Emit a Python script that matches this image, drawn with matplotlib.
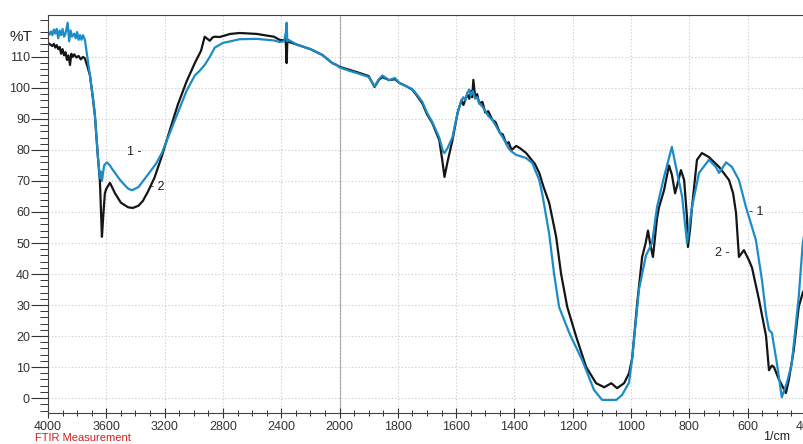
import matplotlib
matplotlib.use("Agg")
import matplotlib.pyplot as plt
import numpy as np
from matplotlib.ticker import FixedLocator, NullFormatter

plt.rcParams['font.family'] = ['Liberation Sans', 'DejaVu Sans']

# FTIR spectra (wavenumber in 1/cm, transmittance in %T)
# curve 2 (black)
wn_2 = [4000, 3985, 3970, 3960, 3950, 3940, 3930, 3920, 3910, 3900, 3890, 3880,
        3870, 3860, 3849, 3840, 3830, 3820, 3805, 3790, 3775, 3760, 3747,
        3730, 3712, 3690, 3678, 3658, 3644, 3636, 3630, 3622, 3610, 3600, 3575,
        3540, 3500, 3450, 3418, 3380, 3350, 3315, 3270, 3219, 3160, 3110, 3050,
        2993, 2950, 2925, 2890, 2870, 2856, 2822, 2750, 2685, 2569, 2450, 2411,
        2380, 2370, 2363, 2358, 2295, 2200, 2117, 2050, 2021, 2000, 1966, 1931,
        1900, 1880, 1865, 1853, 1830, 1810, 1795, 1770, 1750, 1736, 1716, 1700,
        1682, 1658, 1648, 1640, 1630, 1613, 1595, 1582, 1575, 1562, 1555, 1550,
        1545, 1541, 1535, 1528, 1521, 1510, 1500, 1490, 1476, 1465, 1450, 1440,
        1428, 1420, 1410, 1394, 1380, 1360, 1349, 1330, 1315,
        1300, 1281, 1257, 1240, 1219, 1188, 1154, 1120, 1092, 1068, 1048, 1024,
        1007, 996, 979, 962, 950, 942, 935, 925, 911, 904, 887, 870, 860, 849,
        838, 829, 818, 808, 805, 797, 791, 774, 757, 733, 698, 664, 650, 640,
        630, 613, 596, 585, 561, 537, 527, 517, 510, 493, 486, 469, 459, 442,
        425, 411, 400]
t_2 = [114.5, 114.0, 113.5, 114.2, 113.0, 113.8, 112.5, 113.2, 111.0, 112.5, 110.5, 111.5,
       109.0, 110.5, 107.4, 111.0, 110.0, 110.8, 109.8, 110.3, 109.2, 110.0, 109.5,
       107.0, 104.0, 96.0, 91.0, 78.0, 70.0, 60.0, 52.0, 58.0, 66.0, 67.5, 69.4,
       66.0, 63.0, 61.5, 61.3, 62.0, 63.5, 66.5, 71.0, 78.0, 87.0, 94.5, 102.0,
       108.0, 112.0, 116.5, 115.2, 116.3, 116.5, 116.4, 117.4, 117.7, 117.4, 116.5, 115.5,
       115.3, 116.0, 108.0, 115.0, 114.0, 112.5, 110.6, 108.0, 107.4, 106.8, 105.8, 104.8,
       103.8, 100.3, 102.6, 103.5, 102.5, 102.8, 101.6, 100.5, 99.4, 97.7, 95.0, 91.5,
       88.7, 83.2, 77.0, 71.3, 76.0, 83.0, 92.0, 96.0, 94.5, 98.0, 96.5, 99.0,
       97.0, 102.6, 97.0, 98.0, 95.0, 95.5, 92.0, 92.5, 89.7, 89.0, 85.5, 85.0,
       82.0, 82.5, 80.0, 81.3, 80.5, 79.0, 77.7, 75.5, 72.6,
       68.0, 63.0, 52.0, 40.0, 29.4, 19.7, 10.0, 4.8, 3.5, 4.8, 3.2, 4.8,
       8.0, 13.0, 30.6, 45.5, 50.0, 54.0, 50.0, 45.5, 58.0, 61.6, 67.0, 75.0, 72.0, 66.0,
       70.0, 73.5, 70.3, 58.0, 48.7, 55.0, 61.6, 76.8, 79.0, 77.7, 74.5, 70.3, 66.0, 59.7,
       45.5, 47.7, 44.5, 42.0, 31.6, 20.0, 9.0, 10.5, 10.0, 6.0, 4.8, 1.6, 5.8, 15.5,
       29.4, 34.0, 36.0]

# curve 1 (blue)
wn_1 = [4000, 3990, 3980, 3970, 3960, 3950, 3940, 3930, 3920, 3910, 3900, 3890,
        3880, 3865, 3855, 3845, 3835, 3820, 3810, 3800, 3790, 3780, 3770, 3760, 3747,
        3730, 3712, 3690, 3678, 3658, 3644, 3636, 3630, 3615, 3596,
        3575, 3562, 3500, 3450, 3425, 3380, 3315, 3260, 3219, 3160, 3110, 3050,
        2993, 2960, 2925, 2890, 2856, 2800, 2750, 2685, 2569, 2450, 2411, 2380,
        2368, 2363, 2358, 2350, 2295, 2200, 2117, 2050, 2021, 2000, 1966, 1931,
        1900, 1880, 1865, 1853, 1830, 1810, 1795, 1770, 1750, 1736, 1716, 1700,
        1682, 1658, 1645, 1640, 1630, 1613, 1595, 1582, 1575, 1568, 1562, 1555,
        1550, 1543, 1535, 1528, 1521, 1510, 1500, 1490, 1476, 1465, 1450, 1440,
        1428, 1420, 1410, 1394, 1380, 1360, 1339, 1315, 1305, 1281,
        1264, 1247, 1212, 1168, 1127, 1099, 1051, 1031, 1007, 996, 973, 949,
        928, 911, 887, 860, 846, 825, 808, 791, 767, 733, 709, 698, 674, 654,
        630, 606, 572, 551, 537, 527, 517, 500, 483, 466, 449, 425, 411, 400]
t_1 = [117.7, 117.2, 118.2, 117.0, 118.8, 117.5, 119.0, 116.0, 118.5, 117.0, 119.0, 116.5,
       117.5, 121.0, 115.0, 118.5, 116.5, 117.5, 116.0, 118.0, 115.5, 117.0, 115.5, 117.0, 115.5,
       110.0, 104.0, 96.0, 91.0, 78.0, 71.0, 73.0, 70.0, 75.0, 76.0,
       75.0, 74.0, 70.0, 67.5, 67.0, 68.0, 72.0, 75.5, 79.0, 86.0, 92.0, 99.0,
       104.0, 105.5, 107.4, 110.0, 113.0, 114.5, 115.0, 115.7, 115.8, 115.3, 114.8, 115.0,
       118.0, 121.0, 115.0, 115.5, 114.0, 112.5, 110.6, 108.0, 107.4, 106.6, 105.5, 104.5,
       103.5, 100.5, 102.8, 104.0, 102.5, 103.2, 101.6, 100.5, 99.6, 98.0, 95.5, 92.0,
       89.0, 84.0, 79.5, 79.0, 80.5, 84.0, 92.0, 96.0, 97.0, 96.0, 98.4, 99.5,
       97.5, 99.0, 96.5, 97.0, 95.0, 94.0, 92.5, 91.0, 89.7, 88.0, 85.5, 84.0,
       82.0, 80.5, 79.5, 78.4, 78.0, 77.4, 75.8, 70.3, 66.0, 53.0,
       40.0, 29.4, 21.0, 12.3, 2.6, -0.6, -0.6, 1.0, 5.0, 13.0, 35.0, 46.0,
       50.0, 61.6, 71.3, 81.0, 74.5, 65.0, 50.0, 61.6, 72.6, 76.8, 74.5, 72.6, 76.0, 74.5,
       70.3, 61.6, 51.0, 38.0, 27.0, 22.0, 21.0, 11.3, 0.3, 4.8, 11.0, 32.6, 50.0, 56.0]

major_x = [4000, 3600, 3200, 2800, 2400, 2000, 1800, 1600, 1400, 1200, 1000, 800, 600, 400]
major_y = list(range(0, 111, 10))


# Shimadzu-style split axis: 4000-2000 compressed by half
def fwd(x):
    x = np.asarray(x, dtype=float)
    return np.where(x >= 2000, 2000 + (x - 2000) / 2.0, x)


def inv(u):
    u = np.asarray(u, dtype=float)
    return np.where(u >= 2000, 2000 + (u - 2000) * 2.0, u)


fig = plt.figure(figsize=(8.04, 4.44), dpi=100)
ax = fig.add_axes([48 / 804, 1 - 413 / 444, (806 - 48) / 804, (413 - 15) / 444])
ax.set_xscale('function', functions=(fwd, inv))

ax.plot(wn_2, t_2, color='#151515', lw=1.6)
ax.plot(wn_1, t_1, color='#1c8cc8', lw=1.6)

ax.set_xlim(4000, 400)
ax.set_ylim(-4.8, 123.5)

minor_x = list(range(3900, 2000, -100)) + list(range(1950, 400, -50))
ax.xaxis.set_major_locator(FixedLocator(major_x))
ax.xaxis.set_minor_locator(FixedLocator([m for m in minor_x if m not in major_x]))
ax.xaxis.set_minor_formatter(NullFormatter())
ax.set_xticklabels([str(v) for v in major_x])
ax.yaxis.set_major_locator(FixedLocator(major_y))
ax.yaxis.set_minor_locator(FixedLocator([v for v in range(-4, 123, 2) if v % 10]))

ax.tick_params(axis='x', which='major', direction='inout', length=7, width=0.8,
               labelsize=9, colors='#333333', pad=2)
ax.tick_params(axis='x', which='minor', direction='inout', length=4, width=0.7, colors='#333333')
ax.tick_params(axis='y', which='major', direction='out', length=12, width=0.8,
               labelsize=9, colors='#333333', pad=1)
ax.tick_params(axis='y', which='minor', direction='out', length=6, width=0.7, colors='#333333')

ax.grid(True, which='major', linestyle=(0, (1, 2)), color='#c8c8c8', lw=0.8)
ax.axvline(2000, color='#9a9a9a', lw=0.8, zorder=0.5)
for s in ax.spines.values():
    s.set_color('#444444')
    s.set_linewidth(0.8)

ax.text(3459, 79.4, '1 -', fontsize=9, color='#222222', va='center')
ax.text(3301, 68.0, '- 2', fontsize=9, color='#222222', va='center')
ax.text(596, 60.0, '- 1', fontsize=9, color='#222222', va='center')
ax.text(712, 46.8, '2 -', fontsize=9, color='#222222', va='center')

fig.text(10 / 804, 1 - 37 / 444, '%T', fontsize=11, color='#222222', va='center')
fig.text(763 / 804, 1 - 437 / 444, '1/cm', fontsize=9, color='#222222', va='center')
fig.text(35 / 804, 1 - 438 / 444, 'FTIR Measurement', fontsize=8, color='#d02020', va='center')

fig.savefig('out.png', dpi=100, facecolor='white')
